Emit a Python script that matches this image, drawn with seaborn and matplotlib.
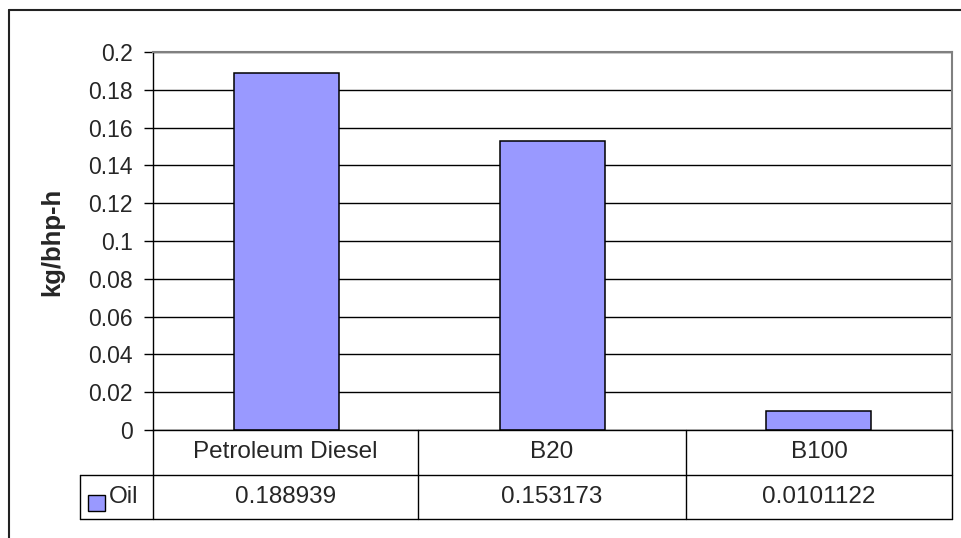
import matplotlib
matplotlib.use("Agg")
import matplotlib.pyplot as plt
import seaborn as sns
import pandas as pd
from matplotlib.lines import Line2D
from matplotlib.patches import Rectangle

categories = ["Petroleum Diesel", "B20", "B100"]
oil_values = [0.188939, 0.153173, 0.0101122]
value_labels = ["0.188939", "0.153173", "0.0101122"]
series_name = "Oil"
y_ticks = [0, 0.02, 0.04, 0.06, 0.08, 0.1, 0.12, 0.14, 0.16, 0.18, 0.2]
y_tick_labels = ["0", "0.02", "0.04", "0.06", "0.08", "0.1", "0.12", "0.14", "0.16", "0.18", "0.2"]
y_label = "kg/bhp-h"

sns.set_theme(style="white")
plt.rcParams["font.family"] = ["Liberation Sans", "DejaVu Sans"]

W, H = 961, 538
fig = plt.figure(figsize=(W / 100, H / 100), dpi=100)
fig.patch.set_facecolor("white")

def fx(x):
    return x / W

def fy(y):
    return 1 - y / H

L, R, T, B = 153, 952, 52, 430
ax = fig.add_axes([fx(L), fy(B), fx(R) - fx(L), fy(T) - fy(B)])

df = pd.DataFrame({"category": categories, "value": oil_values})
bar_color = "#9999FF"
sns.barplot(data=df, x="category", y="value", ax=ax, color=bar_color,
            saturation=1, edgecolor="black", linewidth=1.1, width=0.395)

ax.set_ylim(0, 0.2)
ax.set_xlim(-0.5, len(categories) - 0.5)
ax.set_yticks(y_ticks)
ax.set_yticklabels(y_tick_labels, fontsize=16.5)
ax.set_xticks([])
ax.set_xlabel("")
ax.set_ylabel("")
ax.yaxis.grid(True, color="black", linewidth=1.0)
ax.set_axisbelow(True)
ax.tick_params(axis="y", direction="out", length=6.5, width=1, color="black", pad=8, left=True)
for s in ["left", "bottom"]:
    ax.spines[s].set_color("black")
    ax.spines[s].set_linewidth(1.0)
for s in ["top", "right"]:
    ax.spines[s].set_color("#808080")
    ax.spines[s].set_linewidth(1.5)

fig.text(fx(52), fy(242), y_label, rotation=90, ha="center", va="center",
         fontsize=18.5, fontweight="bold")

# data table
def hline(x0, x1, y, color="black", lw=1.0):
    fig.add_artist(Line2D([fx(x0), fx(x1)], [fy(y), fy(y)], color=color, linewidth=lw,
                          transform=fig.transFigure))

def vline(x, y0, y1, color="black", lw=1.0):
    fig.add_artist(Line2D([fx(x), fx(x)], [fy(y0), fy(y1)], color=color, linewidth=lw,
                          transform=fig.transFigure))

col_edges = [153, 418, 686, 952]
row1_mid, row2_mid = 452, 497
hline(80, 952, 475)
hline(80, 952, 519)
for x in col_edges:
    vline(x, 430, 519)
vline(80, 475, 519)

for i, cat in enumerate(categories):
    cx = (col_edges[i] + col_edges[i + 1]) / 2
    fig.text(fx(cx), fy(row1_mid), cat, ha="center", va="center", fontsize=17.5)
    fig.text(fx(cx), fy(row2_mid), value_labels[i], ha="center", va="center", fontsize=17.5)

fig.add_artist(Rectangle((fx(88), fy(511)), fx(105) - fx(88), fy(495) - fy(511),
                         facecolor=bar_color, edgecolor="black", linewidth=1.0,
                         transform=fig.transFigure))
fig.text(fx(109), fy(row2_mid), series_name, ha="left", va="center", fontsize=17.5)

# outer chart border
hline(9, 961, 10, color="#222222", lw=1.5)
vline(9, 10, 538, color="#222222", lw=1.5)

fig.savefig("out.png", dpi=100, facecolor="white")
